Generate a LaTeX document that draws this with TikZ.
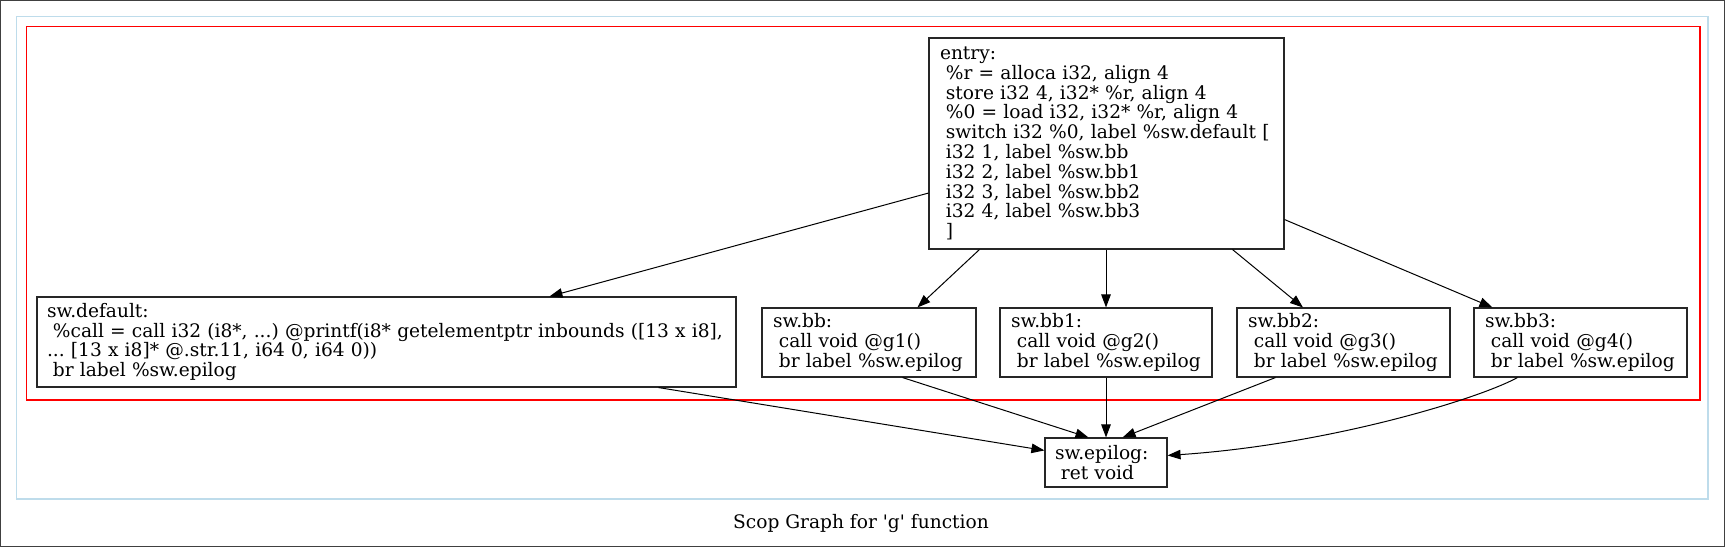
\documentclass[tikz,border=0pt]{standalone}
\usepackage{fontspec}
\setmainfont{DejaVu Serif}
\usetikzlibrary{arrows.meta,calc}
\newcommand{\ind}{\hspace*{0.318em}}
\frenchspacing
\begin{document}
\begin{tikzpicture}[x=1pt,y=-1pt,
  blk/.style={draw=black!85, line width=1.1pt, rectangle, inner xsep=0pt, inner ysep=0pt,
    align=left, font=\fontsize{18.6}{19.8}\selectfont\frenchspacing},
  edge/.style={draw=black, line width=1pt, -{Triangle[length=13pt,width=9.5pt]}},
  capt/.style={font=\fontsize{18.6}{19.8}\selectfont\frenchspacing}
]
\useasboundingbox (0,0) rectangle (1725,547);
\draw[black!75, line width=1.3pt] (0.7,0.7) rectangle (1724.3,546.3);
\draw[draw={rgb,255:red,190;green,220;blue,235}, line width=1.6pt] (16.5,16.5) rectangle (1708,499);
\draw[red, line width=1.4pt] (26.5,26.5) rectangle (1700,400);

\node[blk, minimum width=355pt, minimum height=211pt, text width=333pt] (entry) at (1106.5,143.5)
{entry:\\
\ind\%r = alloca i32, align 4\\
\ind store i32 4, i32* \%r, align 4\\
\ind\%0 = load i32, i32* \%r, align 4\\
\ind switch i32 \%0, label \%sw.default [\\
\ind i32 1, label \%sw.bb\\
\ind i32 2, label \%sw.bb1\\
\ind i32 3, label \%sw.bb2\\
\ind i32 4, label \%sw.bb3\\
\ind ]};

\node[blk, minimum width=699pt, minimum height=90pt, text width=679pt] (swdef) at (386.5,342)
{sw.default:\\
\ind\%call = call i32 (i8*, ...) @printf(i8* getelementptr inbounds ([13 x i8],\\
... [13 x i8]* @.str.11, i64 0, i64 0))\\
\ind br label \%sw.epilog};

\node[blk, minimum width=214pt, minimum height=69pt, text width=192pt] (bb) at (869,342.5)
{sw.bb:\\ \ind call void @g1()\\ \ind br label \%sw.epilog};
\node[blk, minimum width=212pt, minimum height=69pt, text width=190pt] (bb1) at (1106,342.5)
{sw.bb1:\\ \ind call void @g2()\\ \ind br label \%sw.epilog};
\node[blk, minimum width=213pt, minimum height=69pt, text width=191pt] (bb2) at (1343.5,342.5)
{sw.bb2:\\ \ind call void @g3()\\ \ind br label \%sw.epilog};
\node[blk, minimum width=213pt, minimum height=69pt, text width=191pt] (bb3) at (1580.5,342.5)
{sw.bb3:\\ \ind call void @g4()\\ \ind br label \%sw.epilog};

\node[blk, minimum width=122pt, minimum height=49pt, text width=102pt] (epi) at (1106,462.5)
{sw.epilog:\\ \ind ret void};

\node[capt] (cap) at (861,523) {Scop Graph for \textquotesingle g\textquotesingle{} function};

\draw[edge] ($(entry.north west)+(0,155.6)$) -- ($(swdef.north west)+(513,0)$);
\draw[edge] ($(entry.south west)+(51,0)$) -- ($(bb.north west)+(156,0)$);
\draw[edge] (bb1.north |- entry.south) -- (bb1.north);
\draw[edge] ($(entry.south east)+(-52,0)$) -- ($(bb2.north west)+(66.5,0)$);
\draw[edge] ($(entry.south east)+(0,-30)$) -- ($(bb3.north west)+(19,0)$);

\draw[edge] ($(swdef.south east)+(-78,0)$) -- ($(epi.north west)+(0,13)$);
\draw[edge] ($(bb.south east)+(-74,0)$) -- ($(epi.north west)+(44,0)$);
\draw[edge] (bb1.south) -- (epi.north);
\draw[edge] ($(bb2.south west)+(39,0)$) -- ($(epi.north east)+(-45,0)$);
\draw[edge] ($(bb3.south west)+(44,0)$) .. controls +(-38,21) and +(163,-11) .. ($(epi.north east)+(0,18)$);
\end{tikzpicture}
\end{document}
